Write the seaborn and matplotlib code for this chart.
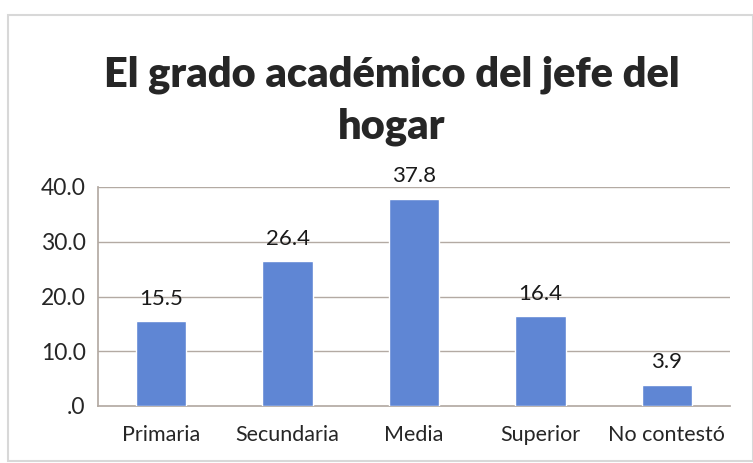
# Bar chart: el grado academico del jefe del hogar

import pandas as pd
import matplotlib.pyplot as plt
import seaborn as sns
from matplotlib.patches import Rectangle

# data
categorias = ["Primaria", "Secundaria", "Media", "Superior", "No contestó"]
porcentajes = [15.5, 26.4, 37.8, 16.4, 3.9]
yticks = [0, 10, 20, 30, 40]
ytick_labels = [".0", "10.0", "20.0", "30.0", "40.0"]

df = pd.DataFrame({"Categoria": categorias, "Porcentaje": porcentajes})

sns.set_theme(style="white")
plt.rcParams["font.family"] = ["Lato", "DejaVu Sans"]

bar_color = "#5f86d4"
grid_color = "#b3aaa3"

fig = plt.figure(figsize=(7.53, 4.63), dpi=100)
fig.patch.set_facecolor("white")

# light frame around the chart area
fig.patches.append(Rectangle((8 / 753, 0.005), 0.99, 1 - 15 / 463 - 0.005,
                             transform=fig.transFigure, fill=False,
                             edgecolor="#d8d8d8", linewidth=1.5))

ax = fig.add_axes([98 / 753, 1 - 406 / 463, 632 / 753, 219 / 463])
sns.barplot(data=df, x="Categoria", y="Porcentaje", color=bar_color,
            width=0.4, saturation=1, ax=ax, zorder=3)

ax.set_ylim(0, 40)
ax.set_yticks(yticks)
ax.set_yticklabels(ytick_labels, fontsize=16.5)
ax.tick_params(axis="y", length=6, color=grid_color, direction="out", pad=3)
ax.tick_params(axis="x", length=0, labelsize=15.5, pad=14)
for y in yticks[1:]:
    ax.axhline(y, color=grid_color, linewidth=1, zorder=1)

ax.set_xlabel("")
ax.set_ylabel("")
for s in ["top", "right"]:
    ax.spines[s].set_visible(False)
ax.spines["left"].set_color(grid_color)
ax.spines["bottom"].set_color(grid_color)

# value labels
for i, v in enumerate(porcentajes):
    ax.text(i, v + 2.3, f"{v:.1f}", ha="center", va="bottom", fontsize=16,
            color="#1a1a1a")

fig.text(0.52, 1 - 75 / 463, "El grado académico del jefe del",
         ha="center", va="center", fontsize=30, fontweight="heavy")
fig.text(0.52, 1 - 127 / 463, "hogar",
         ha="center", va="center", fontsize=30, fontweight="heavy")

plt.savefig("out.png", dpi=100)
plt.close()
